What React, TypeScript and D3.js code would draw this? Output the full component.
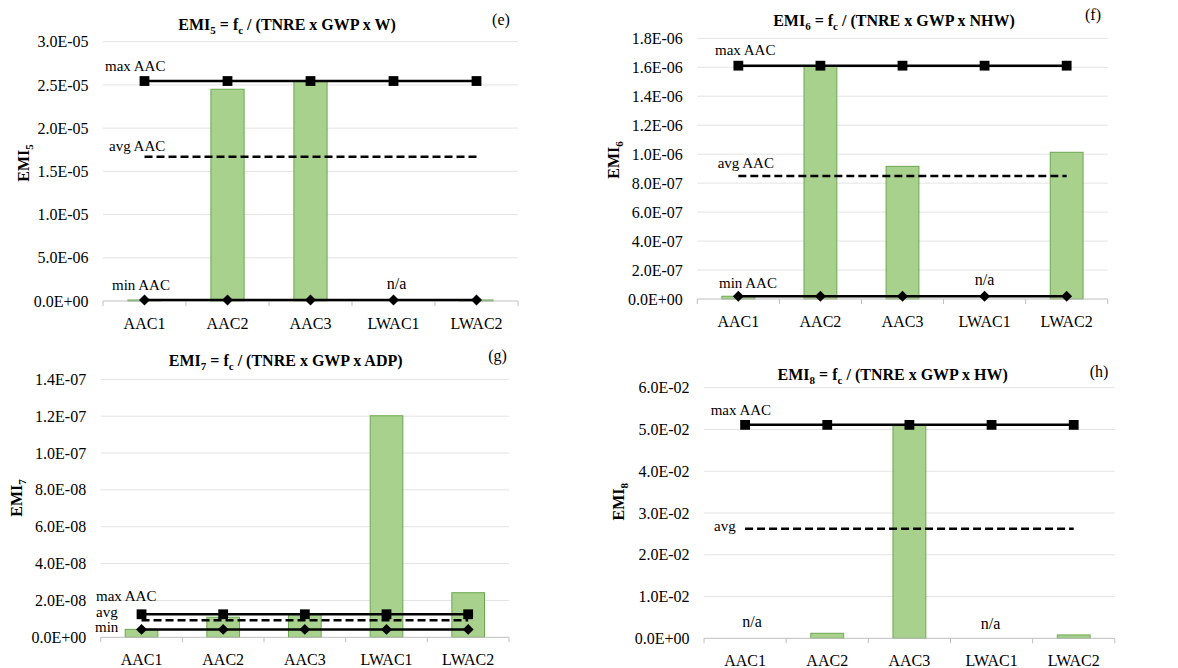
import React, { useEffect, useRef } from 'react';
import * as d3 from 'd3';

const categories = ['AAC1', 'AAC2', 'AAC3', 'LWAC1', 'LWAC2'];

// (e) EMI5
const emi5Bars = [1.2e-7, 2.45e-5, 2.545e-5, null, 1.2e-7];
const emi5Max = [2.545e-5, 2.545e-5, 2.545e-5, 2.545e-5, 2.545e-5];
const emi5Avg = [1.67e-5, 1.67e-5, 1.67e-5, 1.67e-5, 1.67e-5];
const emi5Min = [1.2e-7, 1.2e-7, 1.2e-7, 1.2e-7, 1.2e-7];
const emi5Ticks = [0, 5e-6, 1e-5, 1.5e-5, 2e-5, 2.5e-5, 3e-5];

// (f) EMI6
const emi6Bars = [1.9e-8, 1.611e-6, 9.16e-7, null, 1.013e-6];
const emi6Max = [1.611e-6, 1.611e-6, 1.611e-6, 1.611e-6, 1.611e-6];
const emi6Avg = [8.49e-7, 8.49e-7, 8.49e-7, 8.49e-7, 8.49e-7];
const emi6Min = [1.9e-8, 1.9e-8, 1.9e-8, 1.9e-8, 1.9e-8];
const emi6Ticks = [0, 2e-7, 4e-7, 6e-7, 8e-7, 1e-6, 1.2e-6, 1.4e-6, 1.6e-6, 1.8e-6];

// (g) EMI7
const emi7Bars = [4.3e-9, 1.09e-8, 1.25e-8, 1.202e-7, 2.42e-8];
const emi7Max = [1.25e-8, 1.25e-8, 1.25e-8, 1.25e-8, 1.25e-8];
const emi7Avg = [9.3e-9, 9.3e-9, 9.3e-9, 9.3e-9, 9.3e-9];
const emi7Min = [4.3e-9, 4.3e-9, 4.3e-9, 4.3e-9, 4.3e-9];
const emi7Ticks = [0, 2e-8, 4e-8, 6e-8, 8e-8, 1e-7, 1.2e-7, 1.4e-7];

// (h) EMI8
const emi8Bars = [null, 1.2e-3, 5.11e-2, null, 8e-4];
const emi8Max = [5.11e-2, 5.11e-2, 5.11e-2, 5.11e-2, 5.11e-2];
const emi8Avg = [2.62e-2, 2.62e-2, 2.62e-2, 2.62e-2, 2.62e-2];
const emi8Ticks = [0, 0.01, 0.02, 0.03, 0.04, 0.05, 0.06];

const FONT = "'Liberation Serif', 'Times New Roman', serif";

const fmtE = (v: number) => {
    if (v === 0) return '0.0E+00';
    const [m, e] = v.toExponential(1).split('e');
    const n = +e;
    return m + 'E' + (n < 0 ? '-' : '+') + String(Math.abs(n)).padStart(2, '0');
};

// layout of each panel (plot box in page pixels) + where its texts sit
const panels = [
    {
        n: '5', divisor: 'W', tag: '(e)', bars: emi5Bars, max: emi5Max, avg: emi5Avg, min: emi5Min, ticks: emi5Ticks,
        x0: 103, x1: 518, yTop: 41.7, yBot: 301,
        title: [287, 30], tagPos: [501, 25], yTitle: [23, 163],
        notes: [
            { t: 'max AAC', x: 105, dy: -10, s: 'max' },
            { t: 'avg AAC', x: 109, dy: -6, s: 'avg' },
            { t: 'min AAC', x: 112, dy: -10, s: 'min' },
        ],
        na: [[3, 3, -12]],
    },
    {
        n: '6', divisor: 'NHW', tag: '(f)', bars: emi6Bars, max: emi6Max, avg: emi6Avg, min: emi6Min, ticks: emi6Ticks,
        x0: 697.3, x1: 1107.7, yTop: 38.3, yBot: 299,
        title: [894, 26], tagPos: [1093, 20], yTitle: [613, 160],
        notes: [
            { t: 'max AAC', x: 715, dy: -11, s: 'max' },
            { t: 'avg AAC', x: 717.7, dy: -8, s: 'avg' },
            { t: 'min AAC', x: 719, dy: -8, s: 'min' },
        ],
        na: [[3, 0, -14]],
    },
    {
        n: '7', divisor: 'ADP', tag: '(g)', bars: emi7Bars, max: emi7Max, avg: emi7Avg, min: emi7Min, ticks: emi7Ticks,
        x0: 100.7, x1: 509, yTop: 379.3, yBot: 637.3,
        title: [285.7, 366], tagPos: [497.5, 361], yTitle: [16.7, 498],
        notes: [
            { t: 'max AAC', x: 96, dy: -13, s: 'max' },
            { t: 'avg', x: 96, dy: -3, s: 'avg' },
            { t: 'min', x: 95, dy: 3, s: 'min' },
        ],
        na: [],
    },
    {
        n: '8', divisor: 'HW', tag: '(h)', bars: emi8Bars, max: emi8Max, avg: emi8Avg, min: null, ticks: emi8Ticks,
        x0: 704, x1: 1114.8, yTop: 387.7, yBot: 638.3,
        title: [892.7, 380], tagPos: [1099, 377], yTitle: [618, 501.7],
        notes: [
            { t: 'max AAC', x: 710.7, dy: -10, s: 'max' },
            { t: 'avg', x: 714, dy: 2, s: 'avg' },
        ],
        na: [[0, 7, -11], [3, -1, -9]],
    },
];

const App = () => {
    const ref = useRef<SVGSVGElement>(null);

    useEffect(() => {
        const svg = d3.select(ref.current);
        svg.selectAll('*').remove();

        panels.forEach((p) => {
            const g = svg.append('g').attr('font-family', FONT).attr('fill', '#000');

            const x = d3.scaleBand<string>()
                .domain(categories)
                .range([p.x0, p.x1])
                .paddingInner(0.6)
                .paddingOuter(0.3);
            const step = x.step();
            const cx = (c: string) => (x(c) as number) + x.bandwidth() / 2;

            const y = d3.scaleLinear()
                .domain([0, p.ticks[p.ticks.length - 1]])
                .range([p.yBot, p.yTop]);

            // gridlines
            g.append('g')
                .selectAll('line')
                .data(p.ticks.slice(1))
                .join('line')
                .attr('x1', p.x0).attr('x2', p.x1)
                .attr('y1', d => y(d)).attr('y2', d => y(d))
                .attr('stroke', '#e3e3e3').attr('stroke-width', 1);

            // y tick labels
            g.append('g')
                .attr('text-anchor', 'end')
                .attr('font-size', 16)
                .selectAll('text')
                .data(p.ticks)
                .join('text')
                .attr('x', p.x0 - 14.5)
                .attr('y', d => y(d))
                .attr('dy', '0.35em')
                .text(d => fmtE(d));

            // bars
            g.append('g')
                .selectAll('rect')
                .data(categories.map((c, i) => ({ c, v: p.bars[i] })).filter(d => d.v != null))
                .join('rect')
                .attr('x', d => x(d.c) as number)
                .attr('width', x.bandwidth())
                .attr('y', d => y(d.v as number))
                .attr('height', d => y(0) - y(d.v as number))
                .attr('fill', '#a9d18e')
                .attr('stroke', '#6aa84f')
                .attr('stroke-width', 1);

            // x axis
            const xa = g.append('g').attr('stroke', '#bfbfbf').attr('stroke-width', 1);
            xa.append('line')
                .attr('x1', p.x0).attr('x2', p.x1)
                .attr('y1', p.yBot).attr('y2', p.yBot);
            xa.selectAll('line.tk')
                .data(d3.range(categories.length + 1))
                .join('line')
                .attr('class', 'tk')
                .attr('x1', i => p.x0 + i * step).attr('x2', i => p.x0 + i * step)
                .attr('y1', p.yBot).attr('y2', p.yBot + 5);

            g.append('g')
                .attr('text-anchor', 'middle')
                .attr('font-size', 16)
                .selectAll('text')
                .data(categories)
                .join('text')
                .attr('x', d => cx(d))
                .attr('y', p.yBot + 22)
                .attr('dy', '0.35em')
                .text(d => d);

            const line = d3.line<number>()
                .x((d, i) => cx(categories[i]))
                .y(d => y(d));

            // reference lines
            g.append('path').datum(p.avg).attr('d', line)
                .attr('fill', 'none').attr('stroke', '#000')
                .attr('stroke-width', 2.5).attr('stroke-dasharray', '8,4');

            const series = [{ v: p.max, rot: 0, size: 96 }];
            if (p.min) series.push({ v: p.min, rot: 45, size: 60 });
            series.forEach((s) => {
                g.append('path').datum(s.v).attr('d', line)
                    .attr('fill', 'none').attr('stroke', '#000').attr('stroke-width', 2.5);
                g.append('g')
                    .selectAll('path')
                    .data(s.v)
                    .join('path')
                    .attr('transform', (d, i) => `translate(${cx(categories[i])},${y(d)}) rotate(${s.rot})`)
                    .attr('d', d3.symbol().type(d3.symbolSquare).size(s.size)());
            });

            // line labels
            const refVal: any = { max: p.max, avg: p.avg, min: p.min };
            g.append('g')
                .attr('font-size', 15)
                .selectAll('text')
                .data(p.notes)
                .join('text')
                .attr('x', d => d.x)
                .attr('y', d => y(refVal[d.s][0]) + d.dy)
                .text(d => d.t);

            g.append('g')
                .attr('font-size', 16)
                .attr('text-anchor', 'middle')
                .selectAll('text')
                .data(p.na)
                .join('text')
                .attr('x', d => cx(categories[d[0]]) + d[1])
                .attr('y', d => y(0) + d[2])
                .text('n/a');

            // title
            const t = g.append('text')
                .attr('x', p.title[0]).attr('y', p.title[1])
                .attr('text-anchor', 'middle')
                .attr('font-size', 16).attr('font-weight', 'bold');
            t.append('tspan').text('EMI');
            t.append('tspan').attr('font-size', 11).attr('dy', 4).text(p.n);
            t.append('tspan').attr('dy', -4).text(' = f');
            t.append('tspan').attr('font-size', 11).attr('dy', 4).text('c');
            t.append('tspan').attr('dy', -4).text(` / (TNRE x GWP x ${p.divisor})`);

            g.append('text')
                .attr('x', p.tagPos[0]).attr('y', p.tagPos[1])
                .attr('text-anchor', 'middle').attr('font-size', 16)
                .text(p.tag);

            // y title
            const yt = g.append('text')
                .attr('transform', `translate(${p.yTitle[0]},${p.yTitle[1]}) rotate(-90)`)
                .attr('text-anchor', 'middle').attr('dy', '0.35em')
                .attr('font-size', 16).attr('font-weight', 'bold');
            yt.append('tspan').text('EMI');
            yt.append('tspan').attr('font-size', 11).attr('dy', 4).text(p.n);
        });
    }, []);

    return (
        <svg
            ref={ref}
            width={1178}
            height={668}
            style={{ position: 'absolute', left: 0, top: 0, background: '#fff', fontFamily: FONT }}
        />
    );
};

export default App;
